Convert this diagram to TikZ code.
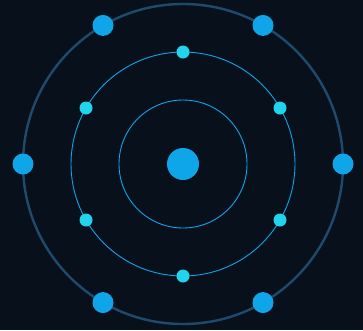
\documentclass[tikz,border=0pt]{standalone}
\usepackage{tikz}
\usetikzlibrary{calc}
\definecolor{bgdark}{HTML}{08101C}
\definecolor{orbitouter}{HTML}{1E4A6E}
\definecolor{orbitinner}{HTML}{0EA5E9}
\definecolor{coredot}{HTML}{0EA5E9}
\definecolor{middot}{HTML}{22D3EE}

\begin{document}
\begin{tikzpicture}[
  x=1pt, y=-1pt,
  core/.style={circle, fill=coredot, inner sep=0pt, minimum size=32pt},
  outerdot/.style={circle, fill=coredot, inner sep=0pt, minimum size=21pt},
  innerdot/.style={circle, fill=middot, inner sep=0pt, minimum size=13pt},
  orbit/.style={draw=orbitinner, line width=0.9pt},
  bigorbit/.style={draw=orbitouter, line width=2.4pt}
]
  \fill[bgdark] (0,0) rectangle (363,330);
  \useasboundingbox (0,0) rectangle (363,330);

  \coordinate (center) at (183,164);

  % rings
  \draw[orbit] (center) circle[radius=64];
  \draw[orbit] (center) circle[radius=112];
  \draw[bigorbit] (center) circle[radius=160];

  \node[core] (nucleus) at (center) {};

  % middle shell
  \foreach \ang [count=\i] in {90,30,-30,-90,-150,150}
    \node[innerdot] (mid\i) at ($(center)+(\ang:112)$) {};

  % outer shell
  \foreach \ang [count=\i] in {60,0,-60,-120,180,120}
    \node[outerdot] (out\i) at ($(center)+(\ang:160)$) {};
\end{tikzpicture}
\end{document}
